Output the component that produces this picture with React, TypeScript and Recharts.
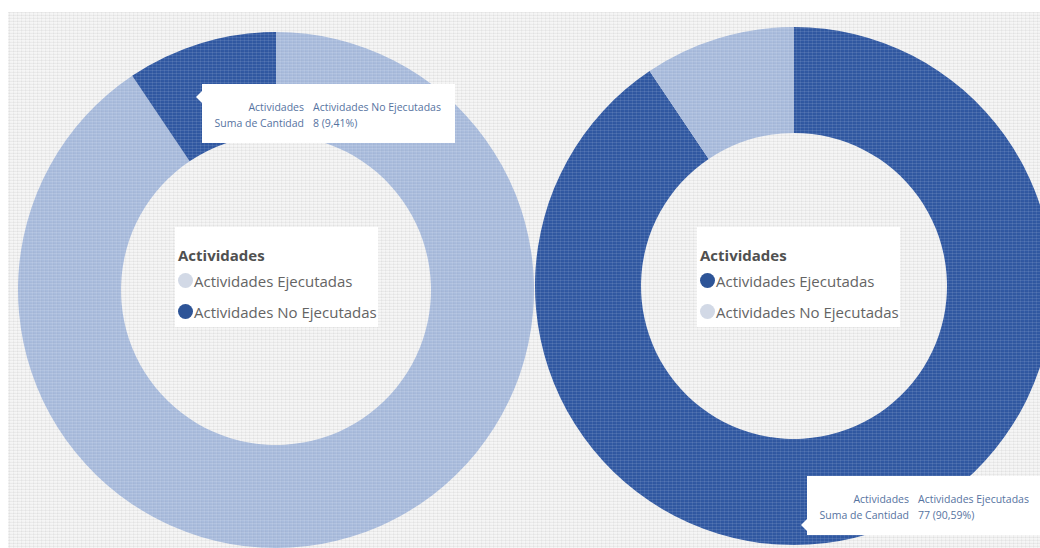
import { PieChart, Pie, Cell, Tooltip, Legend } from 'recharts';

const categories = ['Actividades Ejecutadas', 'Actividades No Ejecutadas'];
const cantidad = [77, 8];

const leftSliceColors = ['#a9bcdd', '#3159a3'];
const rightSliceColors = ['#3159a3', '#a9bcdd'];
const leftDotColors = ['#d2d9e6', '#2d5497'];
const rightDotColors = ['#2d5497', '#d2d9e6'];

const data = categories.map((name, i) => ({ name, value: cantidad[i] }));
const total = cantidad.reduce((a, b) => a + b, 0);

const FONT = '"Segoe UI", "Open Sans", "Noto Sans", sans-serif';

// linen-like weave, kept faint
const texture =
  'repeating-linear-gradient(0deg, rgba(255,255,255,0.10) 0px, rgba(255,255,255,0.10) 1px, rgba(0,0,0,0.018) 1px, rgba(0,0,0,0.018) 2px, transparent 2px, transparent 3px),' +
  'repeating-linear-gradient(90deg, rgba(255,255,255,0.08) 0px, rgba(255,255,255,0.08) 1px, rgba(0,0,0,0.018) 1px, rgba(0,0,0,0.018) 2px, transparent 2px, transparent 4px)';

interface TipProps {
  active?: boolean;
  payload?: Array<{ name: string; value: number }>;
  notchTop: number;
  width: number;
}

const InfoTooltip = ({ active, payload, notchTop, width }: TipProps) => {
  if (!active || !payload || !payload.length) return null;
  const item = payload[0];
  const pct = ((Number(item.value) / total) * 100).toFixed(2).replace('.', ',');
  const row = { display: 'flex', height: 16, lineHeight: '16px' } as const;
  const label = { width: 94, textAlign: 'right' as const, marginRight: 9 };
  return (
    <div
      style={{
        position: 'relative',
        width,
        height: 59,
        boxSizing: 'border-box',
        padding: '15px 0 0 8px',
        background: '#ffffff',
        color: '#56739f',
        fontFamily: FONT,
        fontSize: 10.5,
        whiteSpace: 'nowrap',
      }}
    >
      <div
        style={{
          position: 'absolute',
          left: -6,
          top: notchTop - 6,
          width: 0,
          height: 0,
          borderTop: '6px solid transparent',
          borderBottom: '6px solid transparent',
          borderRight: '6px solid #ffffff',
        }}
      />
      <div style={row}>
        <span style={label}>Actividades</span>
        <span>{item.name}</span>
      </div>
      <div style={row}>
        <span style={label}>Suma de Cantidad</span>
        <span>
          {item.value} ({pct}%)
        </span>
      </div>
    </div>
  );
};

const makeLegend = (dots: string[]) => () =>
  (
    <div
      style={{
        width: 203,
        height: 100,
        boxSizing: 'border-box',
        padding: '18px 0 0 3px',
        background: '#ffffff',
        fontFamily: FONT,
      }}
    >
      <div style={{ fontSize: 15, fontWeight: 700, color: '#505050', lineHeight: '20px', marginBottom: 0 }}>
        Actividades
      </div>
      {categories.map((name, i) => (
        <div key={name} style={{ display: 'flex', alignItems: 'center', height: 31 }}>
          <span
            style={{
              display: 'inline-block',
              width: 15,
              height: 15,
              borderRadius: '50%',
              background: dots[i],
              marginRight: 1,
            }}
          />
          <span style={{ fontSize: 15, color: '#646464' }}>{name}</span>
        </div>
      ))}
    </div>
  );

interface DonutProps {
  width: number;
  cx: number;
  cy: number;
  outer: number;
  inner: number;
  sliceColors: string[];
  dotColors: string[];
  legendPos: { left: number; top: number };
  tipIndex: number;
  tipPos: { x: number; y: number };
  notchTop: number;
  tipWidth: number;
}

function Donut(p: DonutProps) {
  return (
    <PieChart width={p.width} height={536}>
      <Pie
        data={data}
        dataKey="value"
        nameKey="name"
        cx={p.cx}
        cy={p.cy}
        innerRadius={p.inner}
        outerRadius={p.outer}
        startAngle={90}
        endAngle={-270}
        stroke="none"
        legendType="circle"
        isAnimationActive={false}
      >
        {data.map((entry, index) => (
          <Cell key={`cell-${index}`} fill={p.sliceColors[index]} />
        ))}
      </Pie>
      <Legend
        content={makeLegend(p.dotColors)}
        wrapperStyle={{ position: 'absolute', left: p.legendPos.left, top: p.legendPos.top, width: 203, zIndex: 2 }}
      />
      <Tooltip
        defaultIndex={p.tipIndex}
        active
        position={p.tipPos}
        allowEscapeViewBox={{ x: true, y: true }}
        isAnimationActive={false}
        wrapperStyle={{ zIndex: 3, outline: 'none' }}
        content={<InfoTooltip notchTop={p.notchTop} width={p.tipWidth} />}
      />
    </PieChart>
  );
}

export default function App() {
  return (
    <div
      style={{
        position: 'fixed',
        left: 8,
        top: 12,
        width: 1032,
        height: 536,
        overflow: 'hidden',
        backgroundColor: '#f3f3f3',
        backgroundImage: texture,
      }}
    >
      <div style={{ position: 'absolute', left: 0, top: 0 }}>
        <Donut
          width={540}
          cx={263}
          cy={273}
          outer={258}
          inner={155}
          sliceColors={leftSliceColors}
          dotColors={leftDotColors}
          legendPos={{ left: 167, top: 215 }}
          tipIndex={1}
          tipPos={{ x: 194, y: 72 }}
          notchTop={13}
          tipWidth={253}
        />
      </div>
      <div style={{ position: 'absolute', left: 516, top: 0 }}>
        <Donut
          width={516}
          cx={265}
          cy={269}
          outer={259}
          inner={153}
          sliceColors={rightSliceColors}
          dotColors={rightDotColors}
          legendPos={{ left: 173, top: 215 }}
          tipIndex={0}
          tipPos={{ x: 283, y: 464 }}
          notchTop={49}
          tipWidth={260}
        />
      </div>
      <div
        style={{
          position: 'absolute',
          inset: 0,
          zIndex: 1,
          pointerEvents: 'none',
          backgroundImage: texture,
        }}
      />
    </div>
  );
}
